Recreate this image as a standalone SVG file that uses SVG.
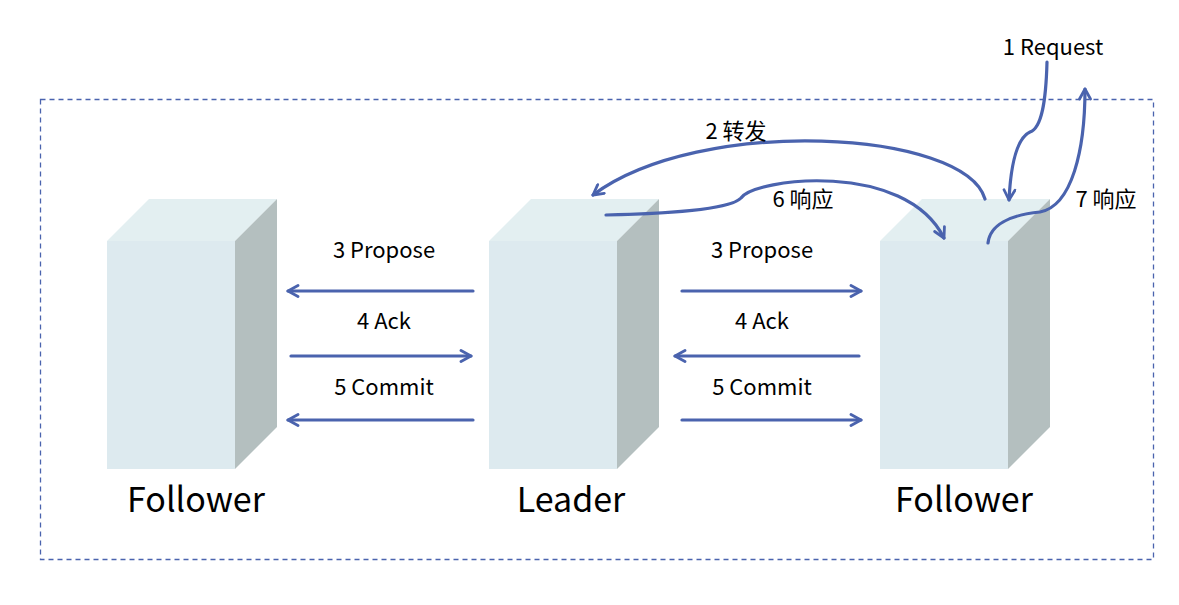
<svg xmlns="http://www.w3.org/2000/svg" width="1179" height="605" viewBox="0 0 1179 605">
<defs>
<style>
.front{fill:#DDEAEF}
.top{fill:#E3EFF1}
.side{fill:#B4BFBF}
.conn{fill:none;stroke:#4A63AE;stroke-width:3.2;stroke-linecap:round}
.lbl{font-family:"Noto Sans CJK SC","Noto Sans",sans-serif;font-size:22px;fill:#000;text-anchor:middle}
.big{font-family:"Noto Sans CJK SC","Noto Sans",sans-serif;font-size:34px;fill:#000;text-anchor:middle}
</style>
<marker id="ah" viewBox="0 0 14 14" refX="12" refY="7" markerWidth="14" markerHeight="14" markerUnits="userSpaceOnUse" orient="auto">
<path d="M2 1.5 L12 7 L2 12.5" fill="none" stroke="#4A63AE" stroke-width="2.8" stroke-linecap="round" stroke-linejoin="round"/>
</marker>
</defs>
<rect width="1179" height="605" fill="#fff"/>
<rect x="40.5" y="99.5" width="1113" height="460" fill="none" stroke="#4A63AE" stroke-width="1.3" stroke-dasharray="5,4"/>

<g id="follower-left">
<polygon class="top" points="107,241 149,199 277,199 235,241"/>
<polygon class="side" points="235,241 277,199 277,427 235,469"/>
<rect class="front" x="107" y="241" width="128" height="228"/>
<text class="big" x="196" y="512">Follower</text>
</g>
<g id="leader">
<polygon class="top" points="489,241 531,199 659,199 617,241"/>
<polygon class="side" points="617,241 659,199 659,427 617,469"/>
<rect class="front" x="489" y="241" width="128" height="228"/>
<text class="big" x="571" y="512">Leader</text>
</g>
<g id="follower-right">
<polygon class="top" points="880,241 922,199 1050,199 1008,241"/>
<polygon class="side" points="1008,241 1050,199 1050,427 1008,469"/>
<rect class="front" x="880" y="241" width="128" height="228"/>
<text class="big" x="964" y="512">Follower</text>
</g>

<g id="connectors">
<path class="conn" marker-end="url(#ah)" d="M473 291 L288 291"/>
<path class="conn" marker-end="url(#ah)" d="M291 356 L471 356"/>
<path class="conn" marker-end="url(#ah)" d="M473 420 L288 420"/>
<path class="conn" marker-end="url(#ah)" d="M682 291 L861 291"/>
<path class="conn" marker-end="url(#ah)" d="M859 356 L675 356"/>
<path class="conn" marker-end="url(#ah)" d="M682 420 L861 420"/>
<path class="conn" marker-end="url(#ah)" d="M985 199 C965 130, 700 115, 593 195"/>
<path class="conn" marker-end="url(#ah)" d="M606 215 C660 214, 730 210, 741 198 C755 178, 905 160, 944 238"/>
<path class="conn" marker-end="url(#ah)" d="M1047 62 C1046 100, 1042 128, 1030 132 C1013 140, 1010 180, 1009 200"/>
<path class="conn" marker-end="url(#ah)" d="M988 243 C990 225, 1010 215, 1040 212 C1072 206, 1085 150, 1085 89"/>
</g>

<g id="labels">
<text class="lbl" x="384" y="258">3 Propose</text>
<text class="lbl" x="384" y="329">4 Ack</text>
<text class="lbl" x="384" y="395">5 Commit</text>
<text class="lbl" x="762" y="258">3 Propose</text>
<text class="lbl" x="762" y="329">4 Ack</text>
<text class="lbl" x="762" y="395">5 Commit</text>
<text class="lbl" x="736" y="139">2 转发</text>
<text class="lbl" x="803" y="207">6 响应</text>
<text class="lbl" x="1106" y="207">7 响应</text>
<text class="lbl" x="1053" y="55">1 Request</text>
</g>
</svg>
